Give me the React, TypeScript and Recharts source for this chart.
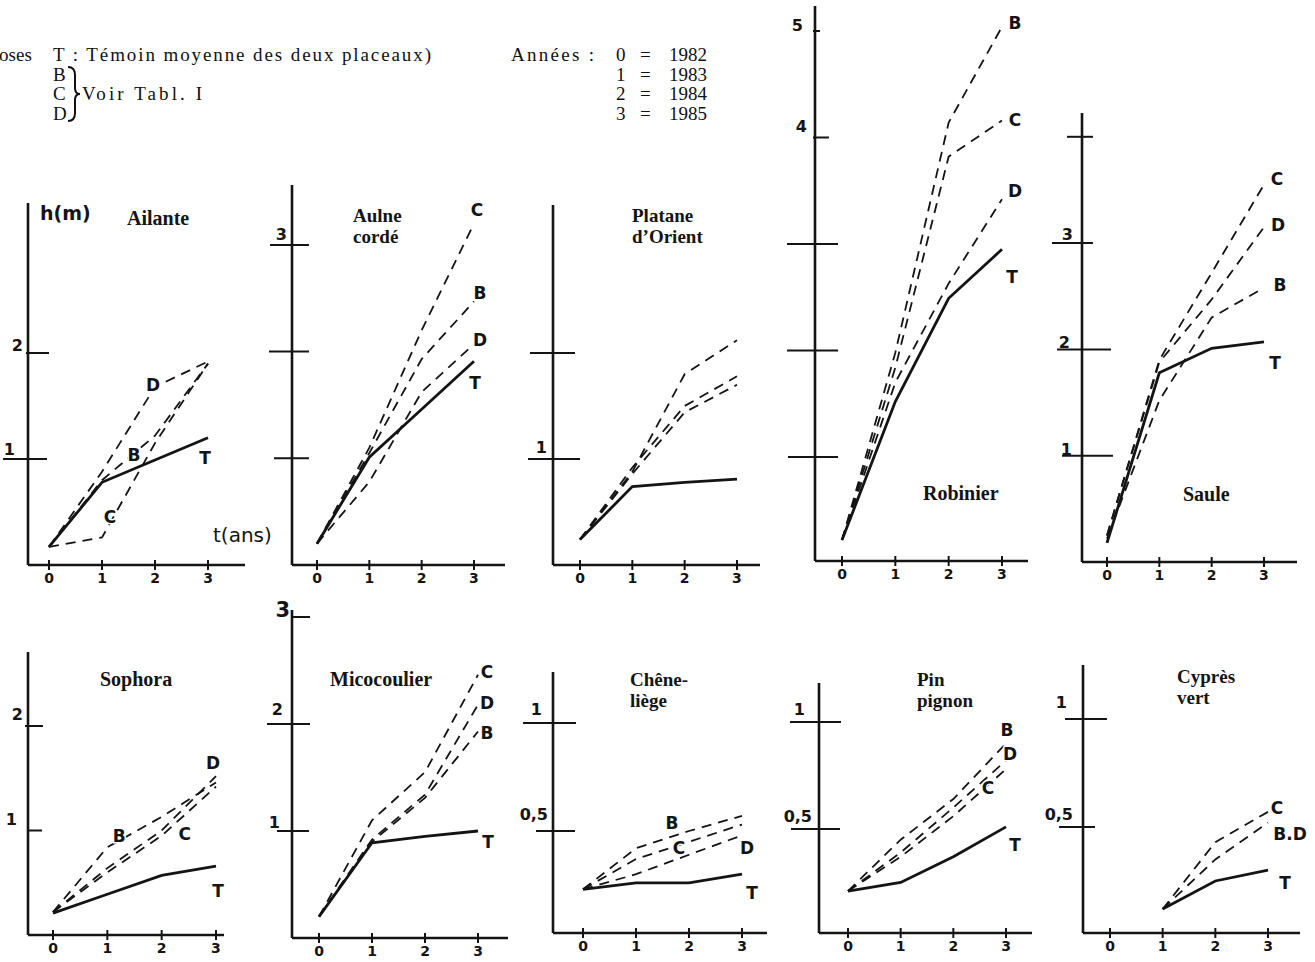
import { LineChart, Line, XAxis, YAxis, LabelList } from "recharts"

// années : 0 = 1982 ... 3 = 1985
const years = [0, 1, 2, 3]
const yearNames = ["1982", "1983", "1984", "1985"]

// hauteur h (m) par traitement — T témoin, B/C/D voir Tabl. I
const ailante = { T: [0.17, 0.78, 0.99, 1.2], B: [0.17, 0.8, 1.22, 1.9], C: [0.17, 0.26, 1.15, 1.9], D: [0.17, 0.88, 1.68, 1.92] }
const aulne = { T: [0.2, 1.01, 1.46, 1.91], B: [0.2, 1.05, 1.93, 2.47], C: [0.2, 1.1, 2.2, 3.2], D: [0.2, 0.78, 1.62, 2.07] }
const platane = { T: [0.24, 0.74, 0.78, 0.81], B: [0.24, 0.88, 1.8, 2.12], C: [0.24, 0.92, 1.5, 1.78], D: [0.24, 0.86, 1.44, 1.7] }
const robinier = { T: [0.22, 1.52, 2.49, 2.95], B: [0.22, 1.98, 4.14, 5.04], C: [0.22, 1.84, 3.82, 4.16], D: [0.22, 1.7, 2.63, 3.42] }
const saule = { T: [0.18, 1.78, 2.01, 2.07], B: [0.22, 1.52, 2.3, 2.58], C: [0.25, 1.9, 2.72, 3.55], D: [0.25, 1.88, 2.47, 3.15] }
const sophora = { T: [0.21, 0.39, 0.57, 0.66], B: [0.22, 0.84, 1.13, 1.46], C: [0.22, 0.6, 0.95, 1.42], D: [0.22, 0.64, 1.0, 1.52] }
const micocoulier = { T: [0.2, 0.89, 0.95, 1.0], B: [0.2, 0.9, 1.31, 1.93], C: [0.2, 1.1, 1.55, 2.46], D: [0.2, 0.92, 1.34, 2.18] }
const cheneLiege = { T: [0.23, 0.26, 0.26, 0.3], B: [0.23, 0.42, 0.5, 0.57], C: [0.23, 0.37, 0.45, 0.53], D: [0.23, 0.3, 0.39, 0.48] }
const pinPignon = { T: [0.21, 0.25, 0.37, 0.51], B: [0.21, 0.45, 0.64, 0.9], C: [0.21, 0.37, 0.56, 0.78], D: [0.21, 0.39, 0.6, 0.82] }
const cypres = { T: [null, 0.12, 0.25, 0.3], C: [null, 0.12, 0.43, 0.57], BD: [null, 0.12, 0.35, 0.52] }

const INK = "#141414"
const HAND = "'DejaVu Sans', sans-serif"
const SERIF = "'Liberation Serif', 'Times New Roman', serif"

type Tick = { v: number; label?: string; l: number; r: number; lx?: number; ly?: number; big?: boolean }
type Lab = { k: string; text: string; i: number; dx: number; dy: number }
type Panel = {
  id: string
  data: Record<string, (number | null)[]>
  box: [number, number, number, number]
  x0: number
  xu: number
  y0: number
  yu: number
  yTicks: Tick[]
  labels: Lab[]
}

const panels: Panel[] = [
  {
    id: "ailante", data: ailante, box: [28, 203, 245, 565], x0: 49, xu: 53, y0: 565, yu: 106,
    yTicks: [{ v: 1, label: "1", l: 25, r: 19, lx: -13, ly: -4 }, { v: 2, label: "2", l: 2, r: 21, lx: -5, ly: -2 }],
    labels: [{ k: "T", text: "T", i: 3, dx: -3, dy: 20 }, { k: "B", text: "B", i: 1, dx: 32, dy: -25 }, { k: "C", text: "C", i: 1, dx: 8, dy: -20 }, { k: "D", text: "D", i: 2, dx: -2, dy: -2 }],
  },
  {
    id: "aulne", data: aulne, box: [292, 185, 505, 565], x0: 317, xu: 52.33, y0: 565, yu: 106.7,
    yTicks: [{ v: 1, l: 18, r: 17 }, { v: 2, l: 23, r: 17 }, { v: 3, label: "3", l: 22, r: 17, lx: -5, ly: -5 }],
    labels: [{ k: "C", text: "C", i: 3, dx: 3, dy: -14 }, { k: "B", text: "B", i: 3, dx: 6, dy: -8 }, { k: "D", text: "D", i: 3, dx: 6, dy: -4 }, { k: "T", text: "T", i: 3, dx: 1, dy: 22 }],
  },
  {
    id: "platane", data: platane, box: [553, 205, 760, 565], x0: 580, xu: 52.33, y0: 565, yu: 106,
    yTicks: [{ v: 1, label: "1", l: 25, r: 27, lx: -6, ly: -6 }, { v: 2, l: 23, r: 22 }],
    labels: [],
  },
  {
    id: "robinier", data: robinier, box: [815, 6, 1028, 561], x0: 842, xu: 53.33, y0: 563.5, yu: 106.5,
    yTicks: [{ v: 1, l: 27, r: 23 }, { v: 2, l: 28, r: 23 }, { v: 3, l: 28, r: 23 }, { v: 4, label: "4", l: 2, r: 14, lx: -8, ly: -6 }, { v: 5, label: "5", l: 2, r: 5, lx: -12, ly: 0 }],
    labels: [{ k: "B", text: "B", i: 3, dx: 13, dy: -4 }, { k: "C", text: "C", i: 3, dx: 13, dy: 0 }, { k: "D", text: "D", i: 3, dx: 13, dy: -8 }, { k: "T", text: "T", i: 3, dx: 10, dy: 28 }],
  },
  {
    id: "saule", data: saule, box: [1082, 113, 1297, 562], x0: 1107, xu: 52.33, y0: 562, yu: 106.3,
    yTicks: [{ v: 1, label: "1", l: 20, r: 31, lx: -10, ly: -1 }, { v: 2, label: "2", l: 25, r: 29, lx: -12, ly: -1 }, { v: 3, label: "3", l: 30, r: 11, lx: -9, ly: -3 }, { v: 4, l: 15, r: 11 }],
    labels: [{ k: "C", text: "C", i: 3, dx: 13, dy: -6 }, { k: "D", text: "D", i: 3, dx: 14, dy: -2 }, { k: "B", text: "B", i: 3, dx: 16, dy: -3 }, { k: "T", text: "T", i: 3, dx: 11, dy: 21 }],
  },
  {
    id: "sophora", data: sophora, box: [28, 652, 224, 935], x0: 53, xu: 54.33, y0: 935, yu: 104.5,
    yTicks: [{ v: 1, label: "1", l: 1, r: 14, lx: -11, ly: -6 }, { v: 2, label: "2", l: 3, r: 15, lx: -5, ly: -6 }],
    labels: [{ k: "D", text: "D", i: 3, dx: -3, dy: -13 }, { k: "B", text: "B", i: 1, dx: 12, dy: -11 }, { k: "C", text: "C", i: 2, dx: 23, dy: -2 }, { k: "T", text: "T", i: 3, dx: 2, dy: 25 }],
  },
  {
    id: "micocoulier", data: micocoulier, box: [292, 610, 508, 938], x0: 319, xu: 53, y0: 938, yu: 107,
    yTicks: [{ v: 1, label: "1", l: 15, r: 17, lx: -12, ly: -3 }, { v: 2, label: "2", l: 25, r: 18, lx: -9, ly: -9 }, { v: 3, label: "3", l: 0, r: 18, lx: -2, ly: 0, big: true }],
    labels: [{ k: "C", text: "C", i: 3, dx: 9, dy: -3 }, { k: "D", text: "D", i: 3, dx: 9, dy: -2 }, { k: "B", text: "B", i: 3, dx: 9, dy: 2 }, { k: "T", text: "T", i: 3, dx: 10, dy: 11 }],
  },
  {
    id: "chene", data: cheneLiege, box: [553, 672, 767, 933], x0: 583, xu: 53, y0: 939, yu: 216,
    yTicks: [{ v: 0.5, label: "0,5", l: 17, r: 22, lx: -5, ly: -11 }, { v: 1, label: "1", l: 30, r: 23, lx: -11, ly: -8 }],
    labels: [{ k: "B", text: "B", i: 2, dx: -17, dy: -8 }, { k: "C", text: "C", i: 2, dx: -10, dy: 6 }, { k: "D", text: "D", i: 3, dx: 5, dy: 13 }, { k: "T", text: "T", i: 3, dx: 10, dy: 19 }],
  },
  {
    id: "pin", data: pinPignon, box: [819, 683, 1032, 933], x0: 848, xu: 52.67, y0: 936, yu: 214,
    yTicks: [{ v: 0.5, label: "0,5", l: 28, r: 21, lx: -7, ly: -7 }, { v: 1, label: "1", l: 29, r: 22, lx: -14, ly: -7 }],
    labels: [{ k: "B", text: "B", i: 3, dx: 1, dy: -13 }, { k: "D", text: "D", i: 3, dx: 4, dy: -7 }, { k: "C", text: "C", i: 3, dx: -18, dy: 19 }, { k: "T", text: "T", i: 3, dx: 9, dy: 18 }],
  },
  {
    id: "cypres", data: cypres, box: [1083, 665, 1300, 933], x0: 1110, xu: 52.67, y0: 935, yu: 216,
    yTicks: [{ v: 0.5, label: "0,5", l: 24, r: 12, lx: -10, ly: -7 }, { v: 1, label: "1", l: 18, r: 24, lx: -16, ly: -11 }],
    labels: [{ k: "C", text: "C", i: 3, dx: 9, dy: -4 }, { k: "BD", text: "B.D", i: 3, dx: 22, dy: 11 }, { k: "T", text: "T", i: 3, dx: 17, dy: 13 }],
  },
]

const titles = [
  { lines: ["Ailante"], x: 127, y: 225 },
  { lines: ["Aulne", "cordé"], x: 353, y: 222 },
  { lines: ["Platane", "d’Orient"], x: 632, y: 222 },
  { lines: ["Robinier"], x: 923, y: 500 },
  { lines: ["Saule"], x: 1183, y: 501 },
  { lines: ["Sophora"], x: 100, y: 686 },
  { lines: ["Micocoulier"], x: 330, y: 686 },
  { lines: ["Chêne-", "liège"], x: 630, y: 686 },
  { lines: ["Pin", "pignon"], x: 917, y: 686 },
  { lines: ["Cyprès", "vert"], x: 1177, y: 683 },
]

const M = { top: 14, right: 24, left: 44, bottom: 34 }

function XTick(props: any) {
  const { x, y, payload } = props
  return (
    <g>
      <line x1={x} x2={x} y1={y - 5} y2={y + 5} stroke={INK} strokeWidth={2} />
      <text x={x} y={y + 18} textAnchor="middle" fontFamily={HAND} fontWeight={700} fontSize={14} fill={INK}>
        {String(payload.value)}
      </text>
    </g>
  )
}

const makeYTick = (ticks: Tick[]) => (props: any) => {
  const { x, y, payload } = props
  const t = ticks.find((k) => Math.abs(k.v - payload.value) < 1e-6)
  if (!t) return <g />
  return (
    <g>
      <line x1={x - t.l} x2={x + t.r} y1={y} y2={y} stroke={INK} strokeWidth={2} />
      {t.label && (
        <text x={x + (t.lx ?? -6)} y={y + (t.ly ?? -5)} textAnchor="end" fontFamily={HAND} fontWeight={700} fontSize={t.big ? 21 : 16} fill={INK}>
          {t.label}
        </text>
      )}
    </g>
  )
}

const seriesLabel = (text: string, index: number, dx: number, dy: number) => (p: any) => {
  const idx = p.index ?? p.payload?.year
  if (idx !== index) return null
  const vx = p.viewBox?.x ?? p.x
  const vy = p.viewBox?.y ?? p.y
  if (vx == null || vy == null) return null
  return (
    <text
      x={vx + dx}
      y={vy + dy}
      textAnchor="middle"
      dominantBaseline="central"
      fontFamily={HAND}
      fontWeight={700}
      fontSize={17}
      fill={INK}
      stroke="#fff"
      strokeWidth={3}
      paintOrder="stroke"
    >
      {text}
    </text>
  )
}

function PanelChart({ p }: { p: Panel }) {
  const [left, top, right, bottom] = p.box
  const keys = Object.keys(p.data)
  const rows = years.map((yr, i) => {
    const r: Record<string, number | null> = { year: yr }
    keys.forEach((k) => (r[k] = p.data[k][i]))
    return r
  })
  const xMin = (left - p.x0) / p.xu
  const xMax = (right - p.x0) / p.xu
  const yMin = (p.y0 - bottom) / p.yu
  const yMax = (p.y0 - top) / p.yu
  const order = [...keys.filter((k) => k !== "T"), "T"]
  return (
    <div style={{ position: "absolute", left: left - M.left, top: top - M.top }}>
      <LineChart
        width={right - left + M.left + M.right}
        height={bottom - top + M.top + M.bottom}
        data={rows}
        margin={{ top: M.top, right: M.right, left: 0, bottom: 0 }}
      >
        <XAxis
          type="number"
          dataKey="year"
          domain={[xMin, xMax]}
          ticks={years}
          allowDataOverflow
          interval={0}
          height={M.bottom}
          axisLine={{ stroke: INK, strokeWidth: 2.6 }}
          tickLine={false}
          tickSize={0}
          tickMargin={0}
          tick={<XTick />}
        />
        <YAxis
          type="number"
          domain={[yMin, yMax]}
          ticks={p.yTicks.map((t) => t.v)}
          allowDataOverflow
          interval={0}
          width={M.left}
          axisLine={{ stroke: INK, strokeWidth: 2.6 }}
          tickLine={false}
          tickSize={0}
          tickMargin={0}
          tick={makeYTick(p.yTicks)}
        />
        {order.map((k) => (
          <Line
            key={k}
            dataKey={k}
            type="linear"
            stroke={INK}
            strokeWidth={k === "T" ? 2.8 : 1.8}
            strokeDasharray={k === "T" ? undefined : "10 7"}
            dot={false}
            activeDot={false}
            isAnimationActive={false}
          >
            {p.labels
              .filter((l) => l.k === k)
              .map((l) => (
                <LabelList key={l.k + l.i} dataKey={k} content={seriesLabel(l.text, l.i, l.dx, l.dy)} />
              ))}
          </Line>
        ))}
      </LineChart>
    </div>
  )
}

// lignes de la légende du haut
const lineY = [61, 80.5, 100, 119.5]

export default function App() {
  const head = { fontFamily: SERIF, fontSize: 19, fill: "#111" }
  return (
    <div style={{ position: "absolute", left: 0, top: 0, width: 1315, height: 962, background: "#fff", overflow: "hidden" }}>
      {panels.map((p) => (
        <PanelChart key={p.id} p={p} />
      ))}
      <svg width={1315} height={962} style={{ position: "absolute", left: 0, top: 0, pointerEvents: "none" }}>
        {/* légende du haut */}
        <text x={-1} y={lineY[0]} {...head} textLength={33} lengthAdjust="spacing">oses</text>
        <text x={53} y={lineY[0]} {...head} textLength={378} lengthAdjust="spacing">T : Témoin moyenne des deux placeaux)</text>
        <text x={53} y={lineY[1]} {...head}>B</text>
        <text x={53} y={lineY[2]} {...head}>C</text>
        <text x={53} y={lineY[3]} {...head}>D</text>
        <path d="M 68 67 Q 75 67 75 75 L 75 88 Q 75 94 80 94 Q 75 94 75 100 L 75 113 Q 75 121 68 121" fill="none" stroke="#111" strokeWidth={2} />
        <text x={82} y={lineY[2]} {...head} textLength={120} lengthAdjust="spacing">Voir Tabl. I</text>
        <text x={511} y={lineY[0]} {...head} textLength={83} lengthAdjust="spacing">Années :</text>
        {years.map((yr, i) => (
          <text key={yr} x={616} y={lineY[i]} {...head}>
            <tspan>{String(yr)}</tspan>
            <tspan x={640}>=</tspan>
            <tspan x={669}>{yearNames[i]}</tspan>
          </text>
        ))}

        {/* noms des essences */}
        {titles.map((t) =>
          t.lines.map((ln, j) => (
            <text key={ln} x={t.x} y={t.y + j * 21} fontFamily={SERIF} fontWeight={700} fontSize={t.lines.length > 1 ? 19 : 20} fill={INK}>
              {ln}
            </text>
          ))
        )}

        {/* axes manuscrits */}
        <text x={40} y={220} fontFamily={HAND} fontWeight={700} fontSize={19} fill={INK}>h(m)</text>
        <text x={213} y={542} fontFamily={HAND} fontSize={20} fill={INK}>t(ans)</text>
      </svg>
    </div>
  )
}
